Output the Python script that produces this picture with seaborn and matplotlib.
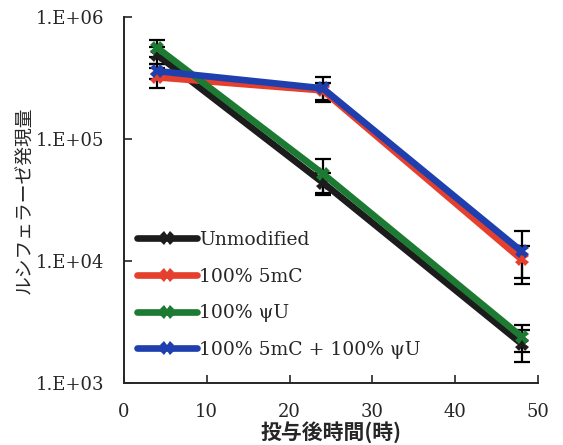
import numpy as np
import pandas as pd
import matplotlib
matplotlib.use("Agg")
import matplotlib.pyplot as plt
import seaborn as sns
from matplotlib.ticker import FixedLocator, FixedFormatter

# --- Data ---
hours = [4, 24, 48]
series = ["Unmodified", "100% 5mC", "100% ψU", "100% 5mC + 100% ψU"]
unmodified = [4.9e5, 4.4e4, 2.1e3]
mc5 = [3.2e5, 2.5e5, 1.03e4]
psiu = [5.6e5, 5.2e4, 2.4e3]
mc5_psiu = [3.6e5, 2.6e5, 1.2e4]
err_unmodified = [0.8e5, 0.9e4, 0.6e3]
err_mc5 = [0.6e5, 0.4e5, 0.3e4]
err_psiu = [0.9e5, 1.6e4, 0.6e3]
err_mc5_psiu = [0.5e5, 0.6e5, 0.55e4]
colors = ["#1c1c1c", "#e5402e", "#1d7a33", "#1f3fae"]

values = [unmodified, mc5, psiu, mc5_psiu]
errors = [err_unmodified, err_mc5, err_psiu, err_mc5_psiu]

df = pd.DataFrame({
    "hours": hours * len(series),
    "value": sum(values, []),
    "err": sum(errors, []),
    "series": [s for s in series for _ in hours],
})

sns.set_style("ticks")
plt.rcParams['font.family'] = ['DejaVu Serif', 'Noto Sans CJK JP']

fig = plt.figure(figsize=(5.63, 4.45), dpi=100)
ax = fig.add_axes([0.220, 0.139, 0.736, 0.823])

# error bars first so the lines sit over them
for s, c in zip(series, colors):
    d = df[df["series"] == s]
    ax.errorbar(d["hours"], d["value"], yerr=d["err"], fmt="none",
                ecolor="black", elinewidth=1.6, capsize=6, capthick=1.6, zorder=2)

sns.lineplot(data=df, x="hours", y="value", hue="series", palette=colors,
             hue_order=series, marker="X", markersize=10, markeredgewidth=0,
             linewidth=4.8, ax=ax, zorder=3)

ax.set_yscale("log")
ax.set_ylim(1e3, 1e6)
ax.set_xlim(0, 50)
ax.set_xticks([0, 10, 20, 30, 40, 50])
ax.yaxis.set_major_locator(FixedLocator([1e3, 1e4, 1e5, 1e6]))
ax.yaxis.set_major_formatter(FixedFormatter(["1.E+03", "1.E+04", "1.E+05", "1.E+06"]))
ax.yaxis.set_minor_locator(FixedLocator([]))
ax.tick_params(axis="both", direction="in", length=6, width=1.2, labelsize=13)
ax.tick_params(axis="y", pad=14)
ax.tick_params(axis="x", pad=14)
for side in ["top", "right"]:
    ax.spines[side].set_visible(False)
for side in ["left", "bottom"]:
    ax.spines[side].set_linewidth(1.4)

ax.set_xlabel("投与後時間(時)", fontsize=15, fontweight="bold",
              family=['Noto Sans CJK JP'], labelpad=0)
ax.set_ylabel("ルシフェラーゼ発現量", fontsize=13.5, family=['Noto Sans CJK JP'], labelpad=0)

ax.legend(title=None, frameon=False, fontsize=13.5, loc="lower left",
          bbox_to_anchor=(0.0, 0.03), handlelength=3.2, handletextpad=0.1,
          labelspacing=1.0, borderaxespad=0.3)

fig.savefig("out.png", dpi=100)
